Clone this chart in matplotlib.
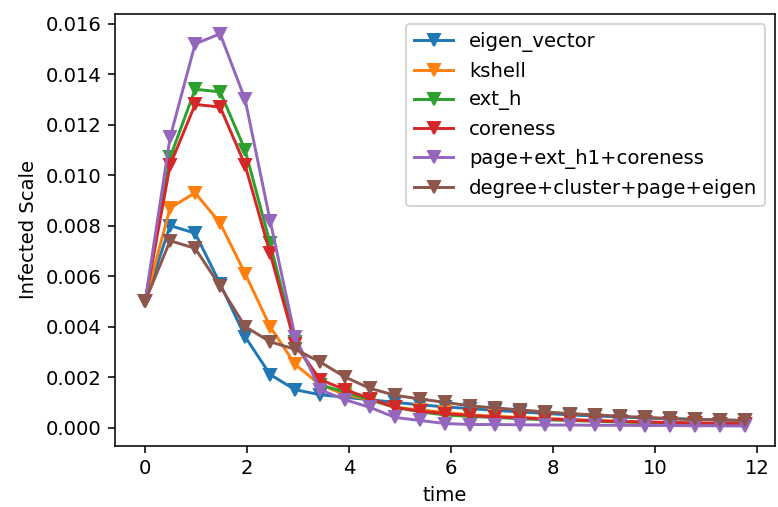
import matplotlib
matplotlib.use("Agg")
import matplotlib.pyplot as plt

# time steps (25 points, ~0.49 apart)
time = [0.0, 0.49, 0.98, 1.47, 1.96, 2.45, 2.94, 3.43, 3.92, 4.41, 4.90, 5.39,
        5.88, 6.37, 6.86, 7.35, 7.84, 8.33, 8.82, 9.31, 9.80, 10.29, 10.78,
        11.27, 11.76]

eigen_vector = [0.0050, 0.0080, 0.0077, 0.0057, 0.0036, 0.0021, 0.0015, 0.0013,
                0.0012, 0.0011, 0.0010, 0.0009, 0.00082, 0.00075, 0.00068,
                0.00062, 0.00056, 0.0005, 0.00046, 0.00042, 0.00038, 0.00035,
                0.00032, 0.0003, 0.00028]
kshell = [0.0050, 0.0087, 0.0093, 0.0081, 0.0061, 0.0040, 0.0025, 0.0017,
          0.0013, 0.0011, 0.0008, 0.0007, 0.0006, 0.0005, 0.00045, 0.0004,
          0.00036, 0.00032, 0.00028, 0.00025, 0.00022, 0.0002, 0.00018,
          0.00016, 0.00015]
ext_h = [0.0050, 0.0107, 0.0134, 0.0133, 0.0110, 0.0073, 0.0034, 0.0017,
         0.0014, 0.0011, 0.0008, 0.00062, 0.0005, 0.00044, 0.0004, 0.00035,
         0.00031, 0.00028, 0.00025, 0.00022, 0.0002, 0.00018, 0.00016,
         0.00015, 0.00014]
coreness = [0.0050, 0.0104, 0.0128, 0.0127, 0.0104, 0.0069, 0.0033, 0.0019,
            0.0015, 0.00115, 0.0008, 0.00065, 0.00055, 0.00048, 0.00042,
            0.00038, 0.00034, 0.0003, 0.00027, 0.00024, 0.00022, 0.0002,
            0.00018, 0.00016, 0.00015]
page_ext_core = [0.0050, 0.0115, 0.0152, 0.0156, 0.0130, 0.0082, 0.0036,
                 0.0015, 0.0011, 0.0008, 0.0004, 0.00028, 0.00016, 0.00012,
                 0.00012, 0.00011, 0.0001, 0.0001, 0.00009, 0.00009, 0.00008,
                 0.00008, 0.00007, 0.00007, 0.00006]
deg_clu_page_eig = [0.0050, 0.0074, 0.0071, 0.0056, 0.0040, 0.0034, 0.0031,
                    0.0026, 0.0020, 0.00155, 0.00128, 0.00113, 0.001, 0.00086,
                    0.00078, 0.0007, 0.00062, 0.00055, 0.0005, 0.00045, 0.0004,
                    0.00036, 0.00032, 0.0003, 0.00028]

series = [eigen_vector, kshell, ext_h, coreness, page_ext_core, deg_clu_page_eig]
labels = ["eigen_vector", "kshell", "ext_h", "coreness",
          "page+ext_h1+coreness", "degree+cluster+page+eigen"]

fig = plt.figure(figsize=(5.518, 3.596), dpi=141)
ax = fig.add_subplot(111)
fig.subplots_adjust(left=0.148, right=0.996, top=0.972, bottom=0.121)

for ys, lab in zip(series, labels):
    ax.plot(time, ys, marker='v', label=lab)

ax.set_xlabel('time')
ax.set_ylabel('Infected Scale')
ax.set_xticks([0, 2, 4, 6, 8, 10, 12])
ax.legend(loc='upper right')

fig.savefig('out.png', dpi=141)
